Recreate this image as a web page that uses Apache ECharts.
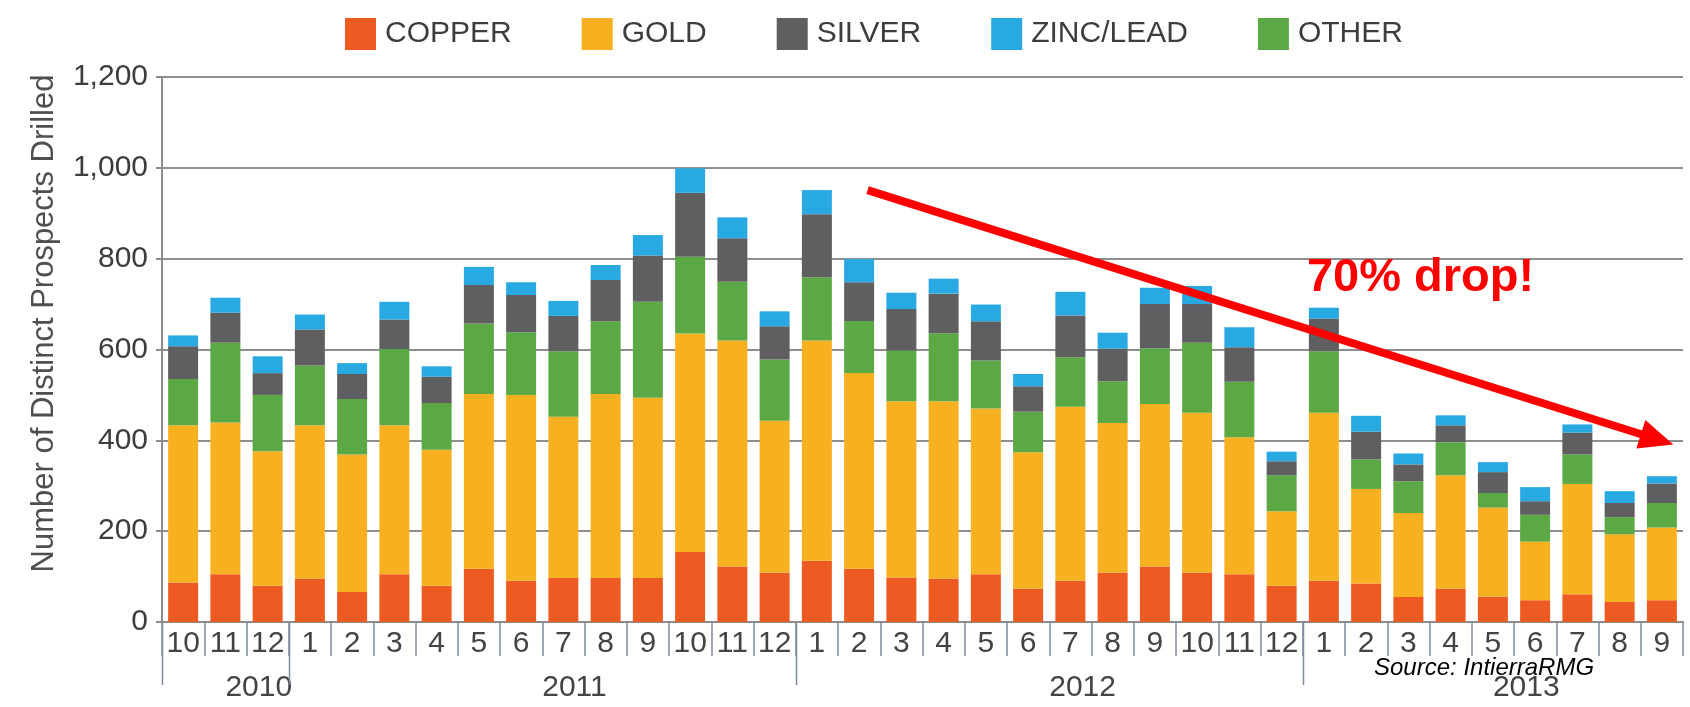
<!DOCTYPE html>
<html>
<head>
<meta charset="utf-8">
<script src="https://cdn.jsdelivr.net/npm/echarts@6/dist/echarts.min.js"></script>
<style>
html,body{margin:0;padding:0;background:#fff;}
#chart{width:1690px;height:707px;}
</style>
</head>
<body>
<div id="chart"></div>
<script>
// ---- data ----
const months = ['10','11','12','1','2','3','4','5','6','7','8','9','10','11','12',
                '1','2','3','4','5','6','7','8','9','10','11','12',
                '1','2','3','4','5','6','7','8','9'];
const years = ['2010','2011','2012','2013'];
const yearSpans = [3,12,12,9];
const copper = [87,105,80, 96,66,105,80,117,91,97,97,97,154,122,109, 135,117,98,96,105,74,91,109,122,109,105,80, 91,85,55,74,56,48,61,44,48];
const gold   = [346,334,296, 337,303,328,299,385,409,355,405,397,481,498,334, 485,431,388,390,365,300,383,329,358,352,302,164, 370,208,185,249,196,129,243,149,160];
const other  = [102,176,124, 132,122,168,103,155,138,144,160,211,169,129,135, 139,115,112,150,106,89,109,92,123,154,122,79, 135,65,70,73,32,59,65,38,54];
const silver = [72,66,48, 79,55,65,58,85,82,78,91,102,141,96,73, 139,85,91,87,86,56,92,72,97,85,76,31, 72,61,37,37,46,30,48,31,43];
const zinc   = [24,33,37, 33,24,39,23,40,28,33,33,45,54,46,33, 53,51,36,33,37,27,52,35,36,40,44,21, 24,35,24,22,22,31,18,26,16];
const yTicks = [0,200,400,600,800,1000,1200];
// annotation arrow: [category position, value]
const arrowStart = [16.2, 951];
const arrowEnd = [35.27, 391];
const dropText = '70% drop!';
const dropPos = [26.6, 749];
const sourceText = 'Source: IntierraRMG';

const colors = {COPPER:'#ED5A22', GOLD:'#F7B01F', SILVER:'#5F5F61', 'ZINC/LEAD':'#28A9E1', OTHER:'#5BA845'};
const FONT = "'Liberation Sans', Arial, sans-serif";

const chart = echarts.init(document.getElementById('chart'), null, {renderer:'canvas'});

function mk(name, data){
  return {name:name, type:'bar', stack:'all', data:data, barWidth:30,
          itemStyle:{color:colors[name]}, emphasis:{disabled:true}};
}

const option = {
  animation:false,
  backgroundColor:'#ffffff',
  textStyle:{fontFamily:FONT},
  legend:{
    data:['COPPER','GOLD','SILVER','ZINC/LEAD','OTHER'],
    left:340, top:13, icon:'rect', itemWidth:31, itemHeight:32, itemGap:70,
    textStyle:{fontSize:30, color:'#3d3d3d', fontFamily:FONT, padding:[0,0,0,4]}
  },
  grid:{left:162, right:7, top:77, bottom:85, containLabel:false},
  xAxis:[{
    type:'category', data:months,
    axisLine:{show:true, lineStyle:{color:'#8c8c8c', width:2}},
    axisTick:{show:true, interval:0, length:34, lineStyle:{color:'#7d8aa0', width:1.5}},
    axisLabel:{interval:0, fontSize:30, color:'#444', margin:7, fontFamily:FONT},
    splitLine:{show:false}
  }],
  yAxis:[{
    type:'value', min:0, max:1200, interval:200,
    name:'Number of Distinct Prospects Drilled', nameLocation:'middle', nameGap:102,
    nameTextStyle:{fontSize:31, color:'#4f4f4f', fontFamily:FONT, padding:[0,0,0,52]},
    axisLine:{show:true, lineStyle:{color:'#8c8c8c', width:2}},
    axisTick:{show:true, length:6, lineStyle:{color:'#8c8c8c', width:2}},
    axisLabel:{fontSize:30, color:'#3d3d3d', margin:14, fontFamily:FONT,
      formatter:function(v){ return yTicks.indexOf(v)>=0 ? v.toLocaleString('en-US') : ''; }},
    splitLine:{show:true, lineStyle:{color:'#8e8e8e', width:2}}
  }],
  series:[mk('COPPER',copper), mk('GOLD',gold), mk('OTHER',other), mk('SILVER',silver), mk('ZINC/LEAD',zinc)]
};
chart.setOption(option);

// helpers mapping through the chart's own scales
function catX(f){
  const x0 = chart.convertToPixel({xAxisIndex:0}, 0);
  const x1 = chart.convertToPixel({xAxisIndex:0}, 1);
  return x0 + f*(x1-x0);
}
function valY(v){ return chart.convertToPixel({yAxisIndex:0}, v); }

const g = [];
const axisY = valY(0);
// year separators and labels
let start = 0;
const bounds = [0];
years.forEach(function(y, i){
  const n = yearSpans[i];
  const cx = catX(start + (n-1)/2);
  g.push({type:'text', left:cx, top:axisY+51, style:{text:y, font:"30px "+FONT, fill:'#444', textAlign:'center'}, silent:true});
  start += n;
  if (i < years.length-1) bounds.push(start);
});
bounds.forEach(function(b){
  const x = Math.round(catX(b-0.5))+0.5;
  g.push({type:'line', shape:{x1:x, y1:axisY, x2:x, y2:axisY+63}, style:{stroke:'#7d8aa0', lineWidth:1.5}, silent:true});
});

// arrow
const sx = catX(arrowStart[0]), sy = valY(arrowStart[1]);
const ex = catX(arrowEnd[0]), ey = valY(arrowEnd[1]);
const dx = ex-sx, dy = ey-sy, L = Math.sqrt(dx*dx+dy*dy);
const ux = dx/L, uy = dy/L;
const headLen = 34, headW = 15;
const bx = ex - ux*headLen, by = ey - uy*headLen;
g.push({type:'line', shape:{x1:sx, y1:sy, x2:bx+ux*2, y2:by+uy*2}, style:{stroke:'#FF0000', lineWidth:8}, silent:true, z:100});
g.push({type:'polygon', shape:{points:[[ex,ey],[bx - uy*headW, by + ux*headW],[bx + uy*headW, by - ux*headW]]}, style:{fill:'#FF0000'}, silent:true, z:100});

// drop text
g.push({type:'text', left:catX(dropPos[0]), top:valY(dropPos[1]) - 27, style:{text:dropText, font:"bold 47px "+FONT, fill:'#FF0000'}, silent:true, z:100});
// source
g.push({type:'text', left:1374, top:axisY+34, style:{text:sourceText, font:"italic 24px "+FONT, fill:'#000'}, silent:true, z:101});

chart.setOption({graphic:g});
</script>
</body>
</html>
